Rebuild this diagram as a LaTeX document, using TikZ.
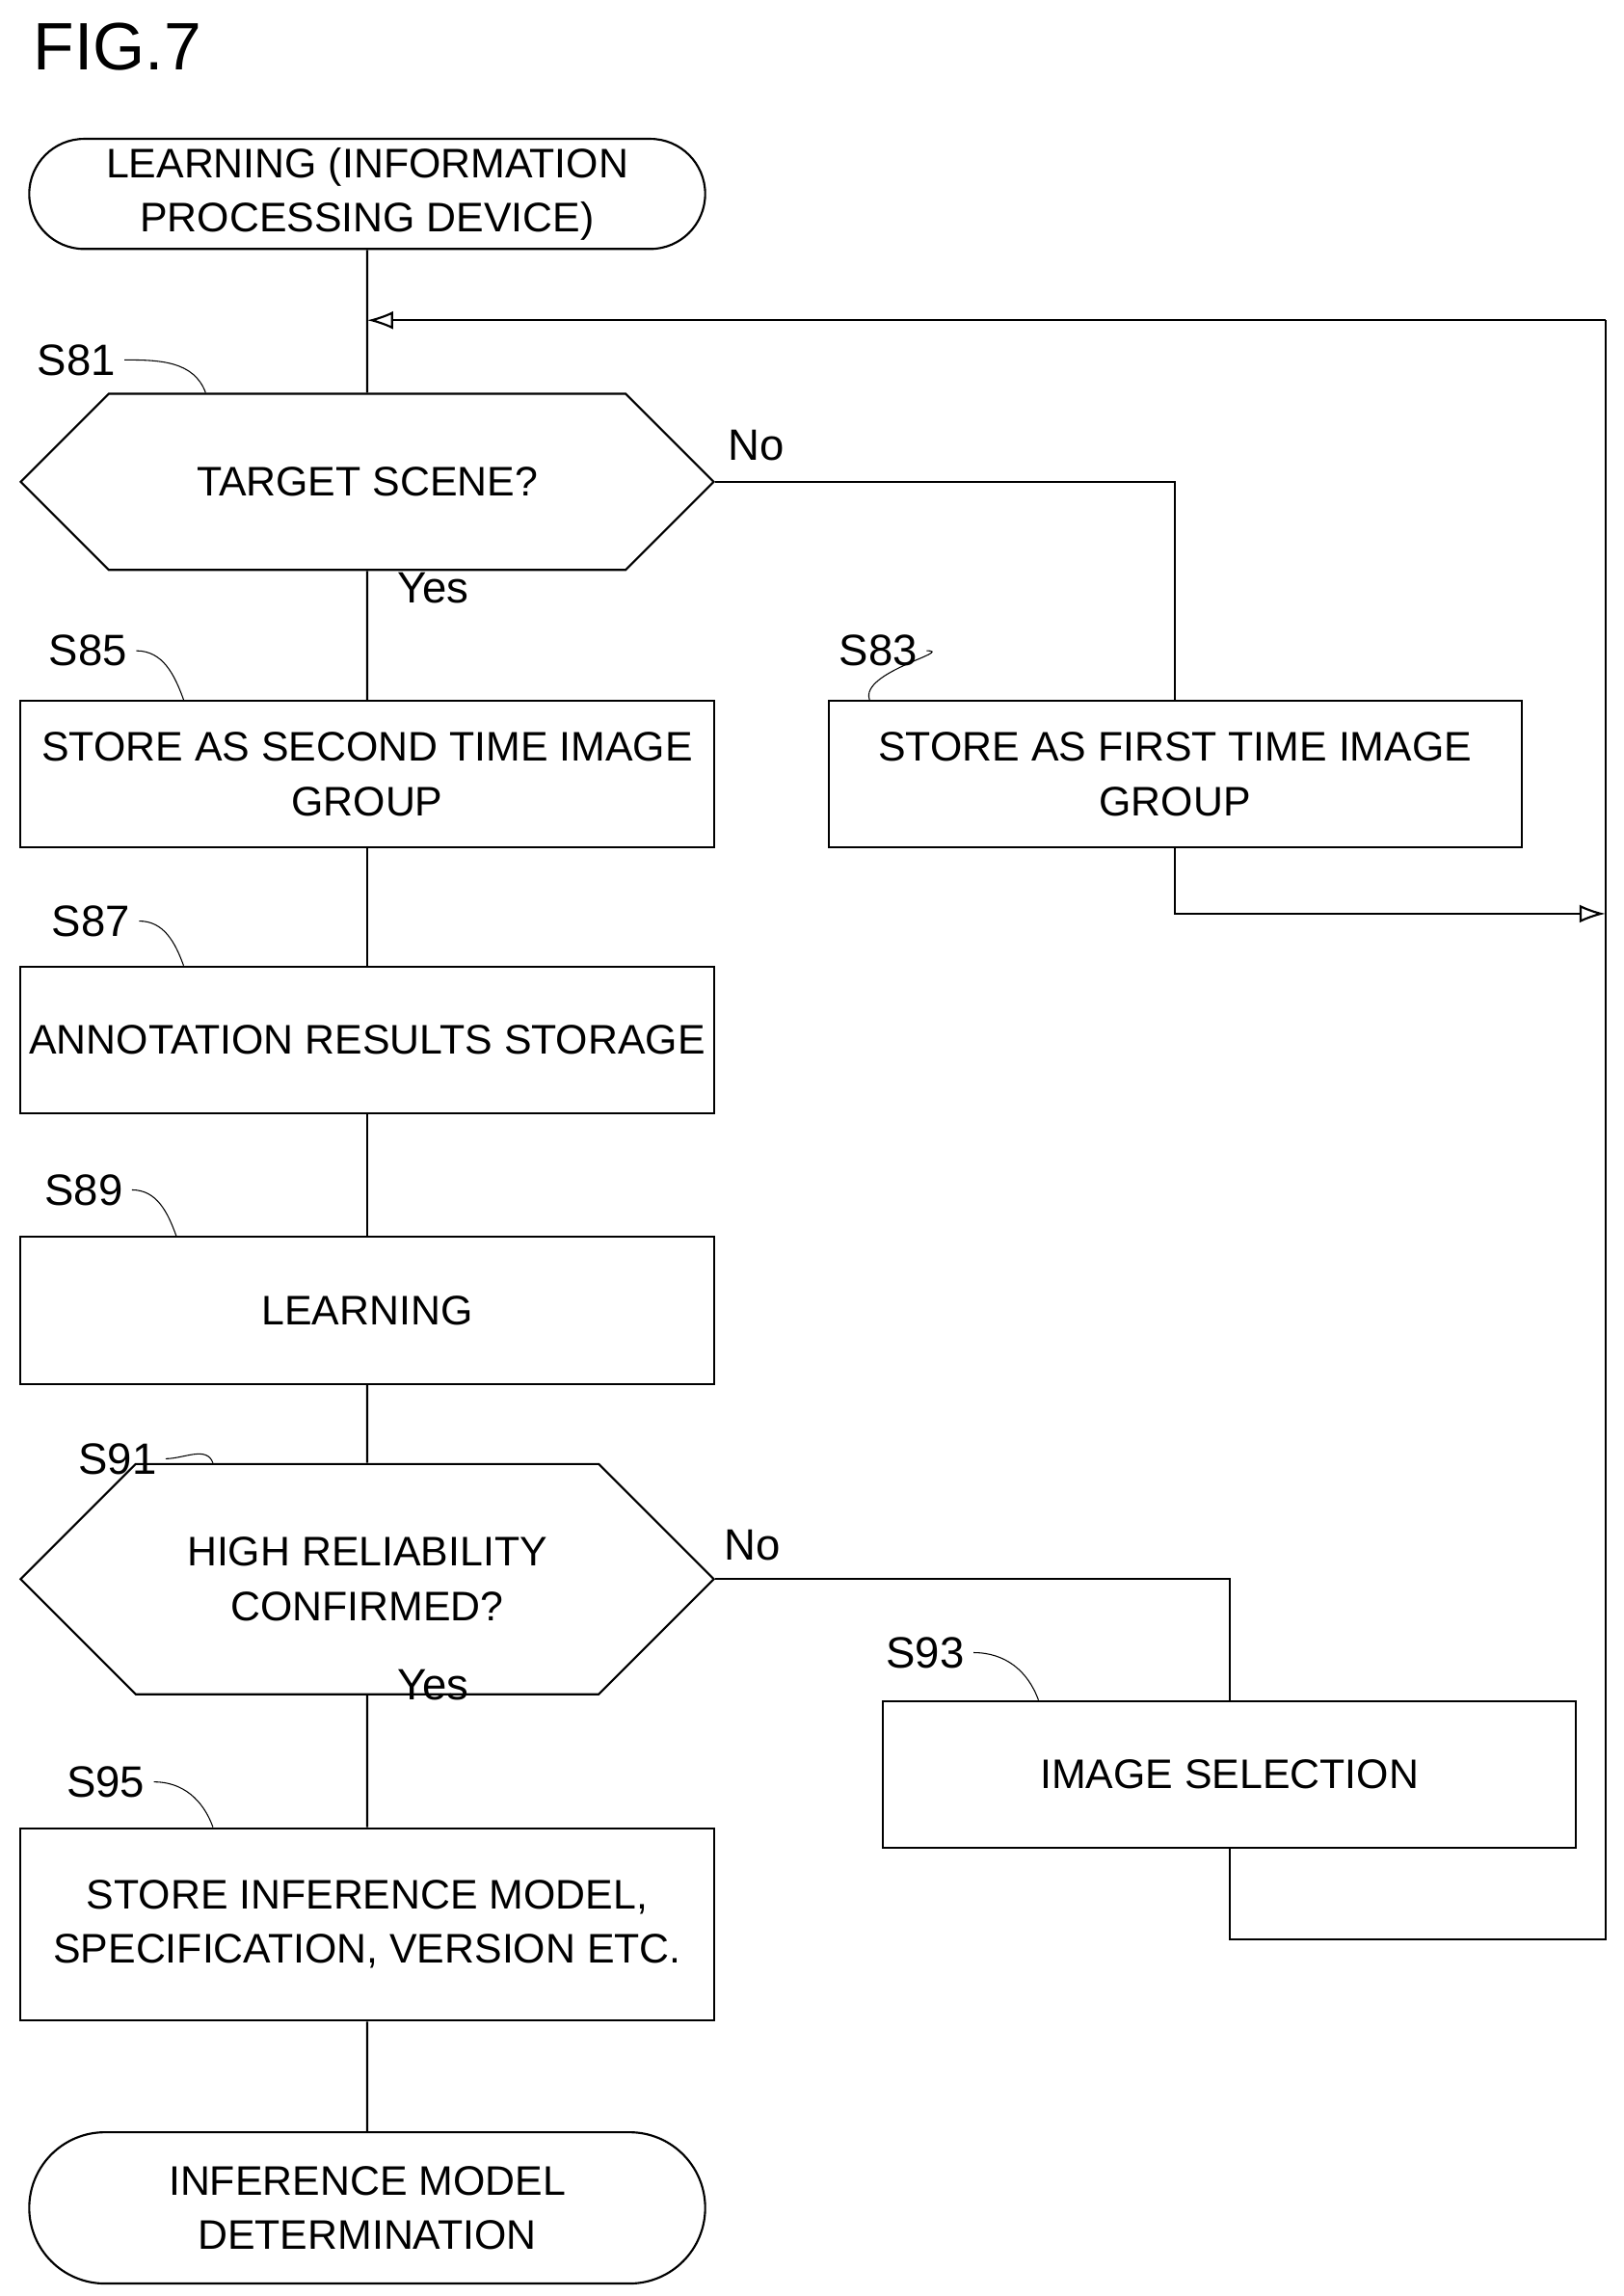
\documentclass[tikz,border=0pt]{standalone}
\usepackage{fontspec}
\setmainfont{Liberation Sans}
\usetikzlibrary{arrows.meta, positioning, shapes.misc}

\begin{document}
\begin{tikzpicture}[x=0.02cm, y=-0.02cm,
    every node/.style={font=\fontsize{16}{21}\selectfont, align=center},
    box/.style={draw, thick, minimum width=9.44cm, minimum height=2cm},
    term/.style={draw, thick, rounded rectangle, minimum width=9.44cm, minimum height=1.5cm},
    decide/.style={draw, thick, chamfered rectangle, chamfered rectangle xsep=0.68cm,
        chamfered rectangle ysep=1cm, minimum width=9.44cm, minimum height=2cm, inner sep=0pt},
    steplbl/.style={font=\fontsize{17}{20}\selectfont},
    flow/.style={thick},
    back/.style={thick, -{Latex[length=10pt,width=7pt,open]}},
    squig/.style={thin}]

\useasboundingbox (0,0) rectangle (1105,1563);

\node[font=\fontsize{26}{30}\selectfont] (fig) at (80,32) {FIG.7};

% main column
\node[term] (start) at (250,132) {LEARNING (INFORMATION\\PROCESSING DEVICE)};
\node[decide] (s81) at (250,328) {TARGET SCENE?};
\node[box] (s85) at (250,527) {STORE AS SECOND TIME IMAGE\\GROUP};
\node[box] (s83) at (800,527) {STORE AS FIRST TIME IMAGE\\GROUP};
\node[box] (s87) at (250,708) {ANNOTATION RESULTS STORAGE};
\node[box] (s89) at (250,892) {LEARNING};
\node[decide] (s91) at (250,1075) {HIGH RELIABILITY\\CONFIRMED?};
\node[box] (s93) at (837,1208) {IMAGE SELECTION};
\node[box, minimum height=2.62cm] (s95) at (250,1310) {STORE INFERENCE MODEL,\\SPECIFICATION, VERSION ETC.};
\node[term, minimum height=2.06cm] (stop) at (250,1503) {INFERENCE MODEL\\DETERMINATION};

% corner points
\coordinate (loop) at (250,218);
\coordinate (rtop) at (1093,218);
\coordinate (rmid) at (1093,622);
\coordinate (rbot) at (1093,1320);

% step labels
\node[steplbl] (l81) at (52,245) {S81};
\node[steplbl] (l85) at (60,443) {S85};
\node[steplbl] (l83) at (598,443) {S83};
\node[steplbl] (l87) at (62,627) {S87};
\node[steplbl] (l89) at (57,810) {S89};
\node[steplbl] (l91) at (80,993) {S91};
\node[steplbl] (l93) at (630,1125) {S93};
\node[steplbl] (l95) at (72,1213) {S95};
\foreach \l/\n/\d in {l81/s81/-120, l85/s85/-135, l83/s83/-218, l87/s87/-135, l89/s89/-140, l91/s91/-115, l93/s93/-140, l95/s95/-115}
    \draw[squig] (\l.east) to[out=0, in=110] ([xshift=\d*0.02cm+0.2cm]\n.north);

% yes / no
\node[steplbl] at (515,303) {No};
\node[steplbl] at (295,400) {Yes};
\node[steplbl] at (512,1052) {No};
\node[steplbl] at (295,1147) {Yes};

% connectors
\draw[flow] (start) -- (s81);
\draw[flow] (s81) -- (s85);
\draw[flow] (s85) -- (s87);
\draw[flow] (s87) -- (s89);
\draw[flow] (s89) -- (s91);
\draw[flow] (s91) -- (s95);
\draw[flow] (s95) -- (stop);
\draw[flow] (s81.east) -| (s83.north);
\draw[flow] (s91.east) -| (s93.north);
\draw[back] (s83.south) |- (rmid);
\draw[flow] (s93.south) |- (rbot) -- (rtop);
\draw[back] (rtop) -- (loop);
\end{tikzpicture}
\end{document}
